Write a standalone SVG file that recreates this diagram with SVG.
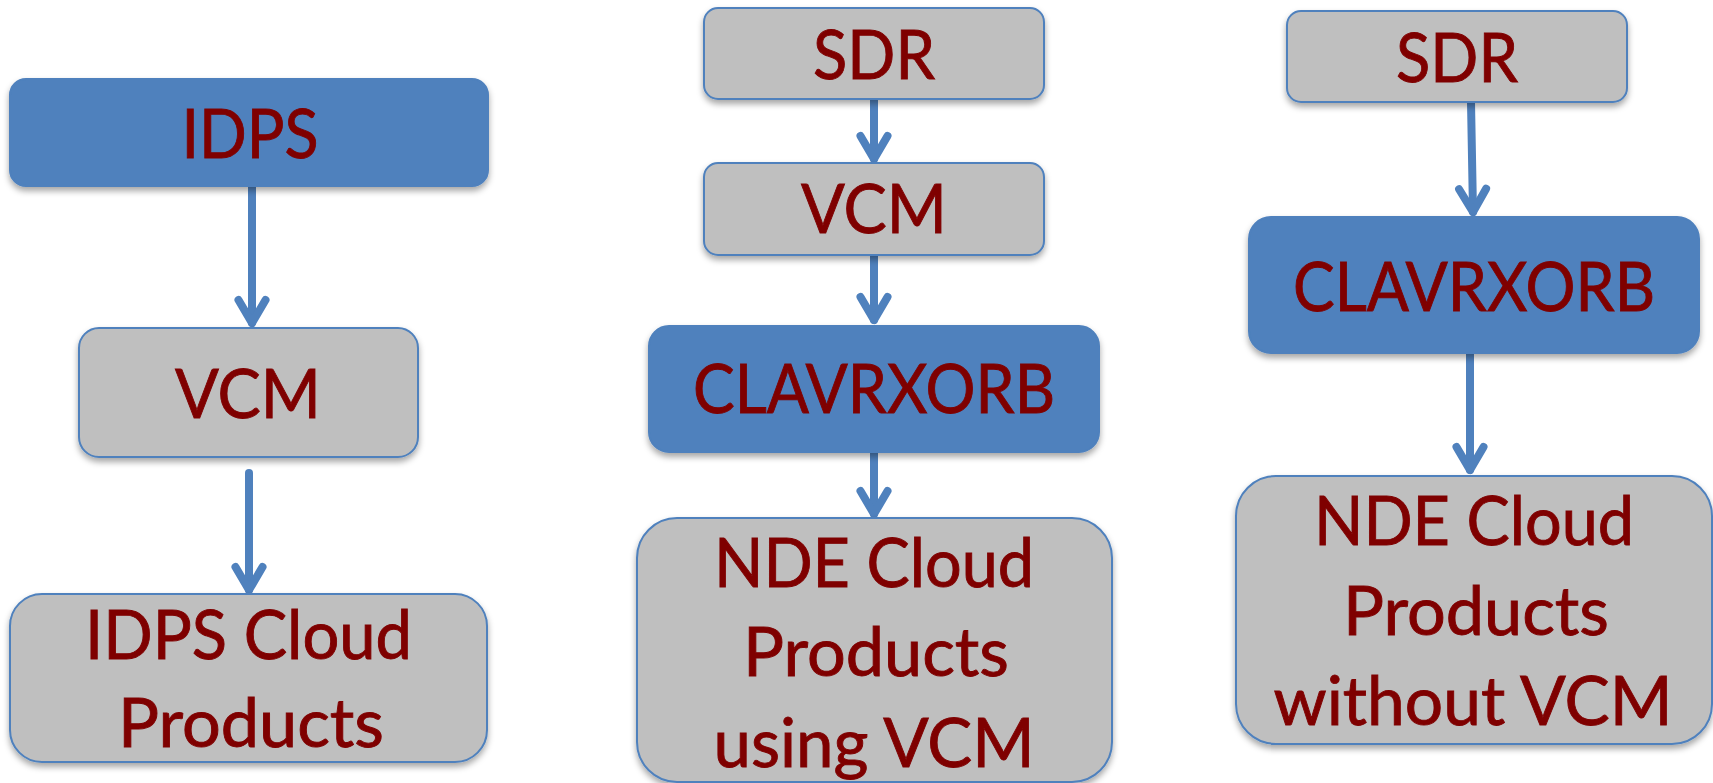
<svg xmlns="http://www.w3.org/2000/svg" width="1713" height="783" viewBox="0 0 1713 783">
<defs>
<filter id="sh" x="-10%" y="-10%" width="120%" height="130%">
<feDropShadow dx="0" dy="4" stdDeviation="3" flood-color="#000" flood-opacity="0.35"/>
</filter>
<marker id="chev" markerUnits="userSpaceOnUse" markerWidth="60" markerHeight="60" viewBox="-30 -30 60 60" refX="0" refY="0" orient="auto" overflow="visible">
<path d="M-23,-13.5 L0,0 L-23,13.5" fill="none" stroke="#4F81BD" stroke-width="8" stroke-linecap="round" stroke-linejoin="round"/>
</marker>
</defs>
<style>
.blue{fill:#4F81BD;stroke:#4F81BD;stroke-width:2;filter:url(#sh)}
.gray{fill:#BFBFBF;stroke:#4F81BD;stroke-width:2;filter:url(#sh)}
.t{font-family:Lato,"Liberation Sans",sans-serif;font-size:67px;fill:#7F0000;stroke:#7F0000;stroke-width:0.9;text-anchor:middle}
.c{fill:none;stroke:#4F81BD;stroke-width:8;stroke-linecap:round;marker-end:url(#chev)}
</style>
<rect width="1713" height="783" fill="#fff"/>
<g id="connectors">
<path class="c" d="M252,186 L252,323"/>
<path class="c" d="M249,473 L249,590"/>
<path class="c" d="M874,99 L874,159"/>
<path class="c" d="M874,255 L874,320"/>
<path class="c" d="M874,452 L874,514"/>
<path class="c" d="M1471,102 L1473,212"/>
<path class="c" d="M1470,353 L1470,470"/>
</g>
<g id="idps">
<rect class="blue" x="10" y="79" width="478" height="107" rx="16"/>
<text class="t" x="250" y="158" textLength="137" lengthAdjust="spacingAndGlyphs">IDPS</text>
</g>
<g id="vcm-left">
<rect class="gray" x="79" y="328" width="339" height="129" rx="20"/>
<text class="t" x="248" y="418" textLength="146" lengthAdjust="spacingAndGlyphs">VCM</text>
</g>
<g id="idps-cloud-products">
<rect class="gray" x="10" y="594" width="477" height="168" rx="32"/>
<text class="t" x="248.5" y="659" textLength="327" lengthAdjust="spacingAndGlyphs">IDPS Cloud</text>
<text class="t" x="251" y="747" textLength="266" lengthAdjust="spacingAndGlyphs">Products</text>
</g>
<g id="sdr-mid">
<rect class="gray" x="704" y="8" width="340" height="91" rx="14"/>
<text class="t" x="874" y="79" textLength="122" lengthAdjust="spacingAndGlyphs">SDR</text>
</g>
<g id="vcm-mid">
<rect class="gray" x="704" y="163" width="340" height="92" rx="14"/>
<text class="t" x="874" y="233" textLength="146" lengthAdjust="spacingAndGlyphs">VCM</text>
</g>
<g id="clavrxorb-mid">
<rect class="blue" x="649" y="326" width="450" height="126" rx="20"/>
<text class="t" x="874" y="413" textLength="362" lengthAdjust="spacingAndGlyphs">CLAVRXORB</text>
</g>
<g id="nde-using-vcm">
<rect class="gray" x="637" y="518" width="475" height="264" rx="40"/>
<text class="t" x="874" y="587" textLength="320" lengthAdjust="spacingAndGlyphs">NDE Cloud</text>
<text class="t" x="876" y="676" textLength="266" lengthAdjust="spacingAndGlyphs">Products</text>
<text class="t" x="874" y="767" textLength="321" lengthAdjust="spacingAndGlyphs">using VCM</text>
</g>
<g id="sdr-right">
<rect class="gray" x="1287" y="11" width="340" height="91" rx="14"/>
<text class="t" x="1457" y="82" textLength="122" lengthAdjust="spacingAndGlyphs">SDR</text>
</g>
<g id="clavrxorb-right">
<rect class="blue" x="1249" y="217" width="450" height="136" rx="22"/>
<text class="t" x="1474" y="311" textLength="362" lengthAdjust="spacingAndGlyphs">CLAVRXORB</text>
</g>
<g id="nde-without-vcm">
<rect class="gray" x="1236" y="476" width="476" height="268" rx="40"/>
<text class="t" x="1474" y="545" textLength="320" lengthAdjust="spacingAndGlyphs">NDE Cloud</text>
<text class="t" x="1476" y="635" textLength="266" lengthAdjust="spacingAndGlyphs">Products</text>
<text class="t" x="1473" y="725" textLength="399" lengthAdjust="spacingAndGlyphs">without VCM</text>
</g>
</svg>
